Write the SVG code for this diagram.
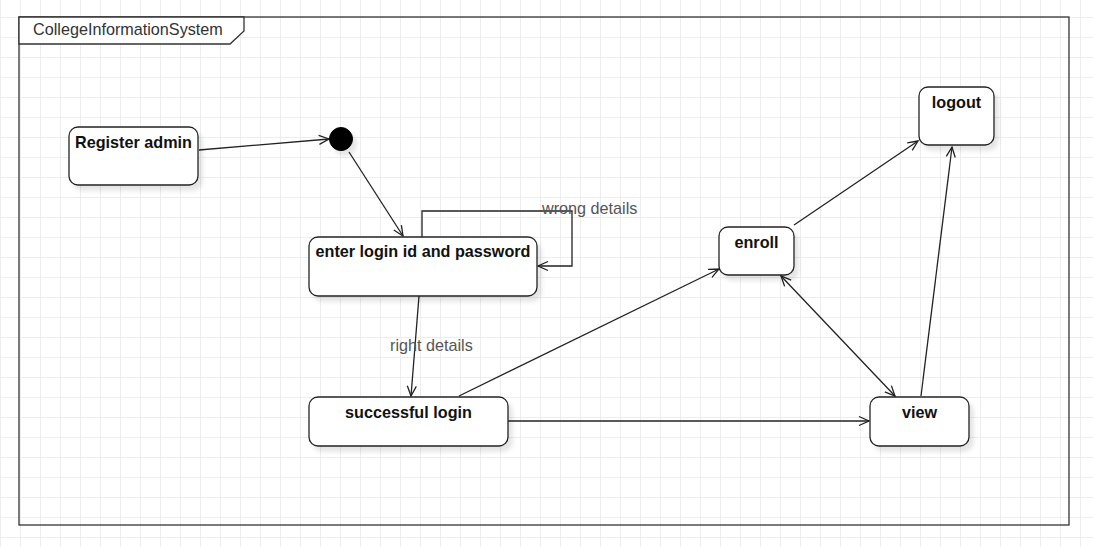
<svg xmlns="http://www.w3.org/2000/svg" width="1093" height="547" viewBox="0 0 1093 547">
<style>
.node{fill:#fff;stroke:#222;stroke-width:1.3}
.lbl{font-family:"Liberation Sans",Arial,sans-serif;font-size:16.2px;font-weight:bold;fill:#111;text-anchor:middle}
.elbl{font-family:"Liberation Sans",Arial,sans-serif;font-size:16.2px;fill:#555}
.edge{fill:none;stroke:#222;stroke-width:1.3}
.title{font-family:"Liberation Sans",Arial,sans-serif;font-size:16.2px;fill:#333}
</style>
<defs>
<pattern id="grid" x="0" y="17" width="20" height="20" patternUnits="userSpaceOnUse">
<path d="M0.5 0 V20 M0 0.5 H20" stroke="#ededed" stroke-width="1" fill="none"/>
</pattern>
<filter id="sh" x="-20%" y="-20%" width="150%" height="160%">
<feDropShadow dx="4" dy="5" stdDeviation="2" flood-color="#000" flood-opacity="0.1"/>
</filter>
<marker id="arr" viewBox="0 0 12 12" refX="11" refY="6" markerWidth="12" markerHeight="12" markerUnits="userSpaceOnUse" orient="auto-start-reverse">
<path d="M1 1.5 L11 6 L1 10.5" fill="none" stroke="#222" stroke-width="1.3"/>
</marker>
</defs>
<rect width="1093" height="547" fill="#fff"/>
<rect width="1093" height="547" fill="url(#grid)"/>
<g id="frame">
<rect x="19" y="17" width="1050" height="508" fill="none" stroke="#333" stroke-width="1.3"/>
<path d="M19 17 H244 V31 L230 44 H19 Z" fill="#fff" stroke="#333" stroke-width="1.3"/>
<text class="title" x="33" y="35">CollegeInformationSystem</text>
</g>
<g id="connectors">
<path class="edge" d="M199 150 L329 139" marker-end="url(#arr)"/>
<path class="edge" d="M349 152 L403 236" marker-end="url(#arr)"/>
<path class="edge" d="M422 237 V211 H572 V266 H538" marker-end="url(#arr)"/>
<text class="elbl" x="542" y="214">wrong details</text>
<path class="edge" d="M419 296 L411 396" marker-end="url(#arr)"/>
<text class="elbl" x="390" y="351">right details</text>
<path class="edge" d="M459 396 L719 269" marker-end="url(#arr)"/>
<path class="edge" d="M508 421 H869" marker-end="url(#arr)"/>
<path class="edge" d="M781 276 L895 396" marker-start="url(#arr)" marker-end="url(#arr)"/>
<path class="edge" d="M794 225 L918 141" marker-end="url(#arr)"/>
<path class="edge" d="M921 396 L952 147" marker-end="url(#arr)"/>
</g>
<g id="register-admin">
<rect class="node" x="69" y="127" width="129" height="58" rx="9" filter="url(#sh)"/>
<text class="lbl" x="133.5" y="148">Register admin</text>
</g>
<g id="initial">
<circle cx="341" cy="139" r="11.5" fill="#000" stroke="#000" filter="url(#sh)"/>
</g>
<g id="enter-login">
<rect class="node" x="309" y="237" width="228" height="59" rx="9" filter="url(#sh)"/>
<text class="lbl" x="423" y="257">enter login id and password</text>
</g>
<g id="successful-login">
<rect class="node" x="309" y="397" width="199" height="49" rx="9" filter="url(#sh)"/>
<text class="lbl" x="408.5" y="417.5">successful login</text>
</g>
<g id="enroll">
<rect class="node" x="719" y="227" width="75" height="48" rx="9" filter="url(#sh)"/>
<text class="lbl" x="756.5" y="248">enroll</text>
</g>
<g id="logout">
<rect class="node" x="919" y="87" width="75" height="58" rx="9" filter="url(#sh)"/>
<text class="lbl" x="956.5" y="108">logout</text>
</g>
<g id="view">
<rect class="node" x="870" y="397" width="99" height="49" rx="9" filter="url(#sh)"/>
<text class="lbl" x="919.5" y="418">view</text>
</g>
</svg>
